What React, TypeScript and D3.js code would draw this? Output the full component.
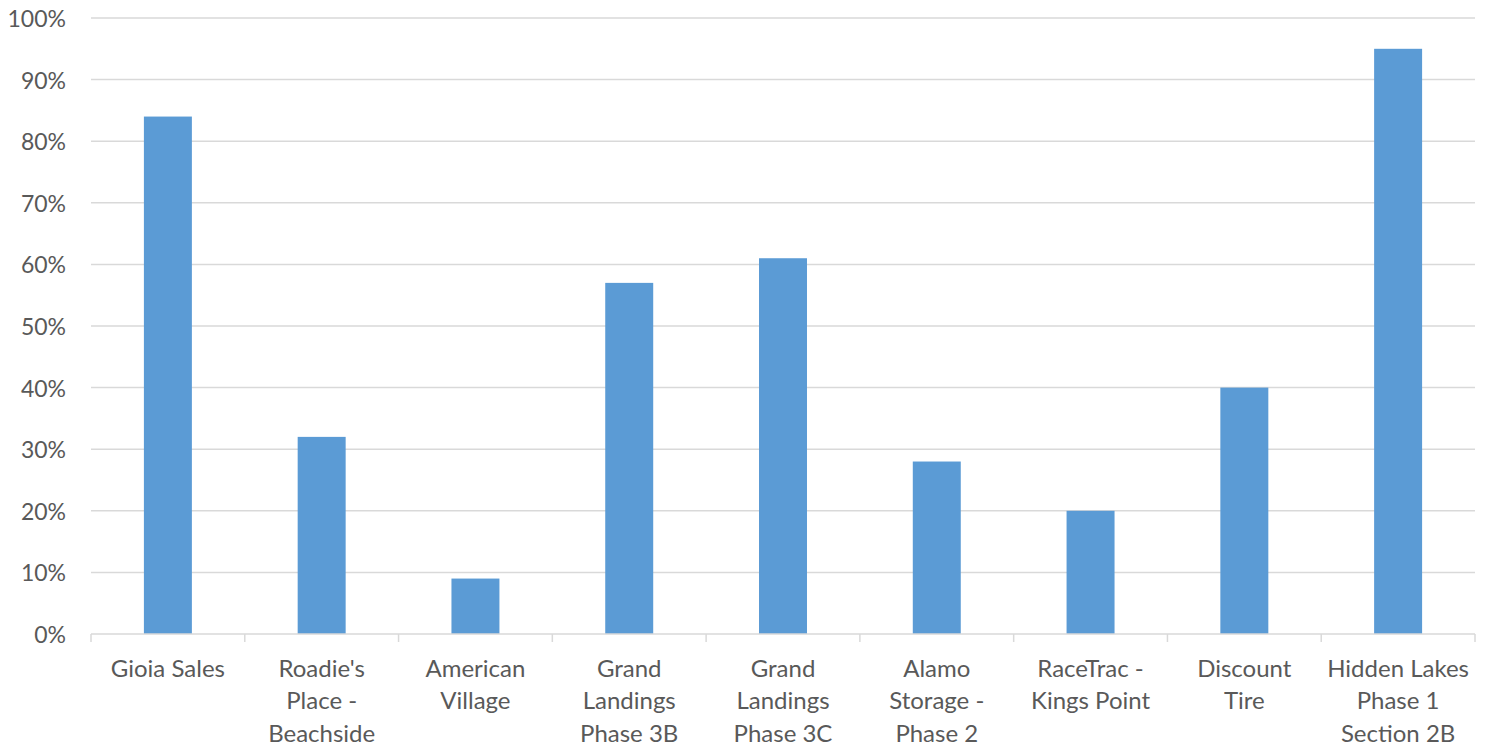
import React from "react";
import * as d3 from "d3";

const categories: string[][] = [
  ["Gioia Sales"],
  ["Roadie's", "Place -", "Beachside"],
  ["American", "Village"],
  ["Grand", "Landings", "Phase 3B"],
  ["Grand", "Landings", "Phase 3C"],
  ["Alamo", "Storage -", "Phase 2"],
  ["RaceTrac -", "Kings Point"],
  ["Discount", "Tire"],
  ["Hidden Lakes", "Phase 1", "Section 2B"],
];
const values: number[] = [0.84, 0.32, 0.09, 0.57, 0.61, 0.28, 0.2, 0.4, 0.95];
const yTicks: number[] = [0, 0.1, 0.2, 0.3, 0.4, 0.5, 0.6, 0.7, 0.8, 0.9, 1.0];

const W = 1486;
const H = 747;
const left = 91;
const right = 1475;
const top = 18;
const bottom = 634;
const FONT = "Lato, 'Open Sans', sans-serif";
const TEXT = "#595959";

export default function App() {
  const idx = categories.map((_, i) => String(i));
  const x = d3.scaleBand<string>().domain(idx).range([left, right]).padding(0);
  const y = d3.scaleLinear().domain([0, 1]).range([bottom, top]);
  const barW = x.bandwidth() * 0.312;
  const fmt = d3.format(".0%");
  return (
    <div style={{ position: "fixed", left: 0, top: 0 }}>
      <svg width={W} height={H} style={{ display: "block", background: "#fff" }}>
        {yTicks.map((t) => (
          <g key={t}>
            {t > 0 && (
              <line x1={left} x2={right} y1={y(t)} y2={y(t)} stroke="#D9D9D9" strokeWidth={1.5} />
            )}
            <text
              x={66}
              y={y(t)}
              textAnchor="end"
              dominantBaseline="central"
              fontFamily={FONT}
              fontSize={23}
              fill={TEXT}
            >
              {fmt(t)}
            </text>
          </g>
        ))}
        {values.map((v, i) => (
          <rect
            key={i}
            x={(x(String(i)) as number) + x.bandwidth() / 2 - barW / 2}
            y={y(v)}
            width={barW}
            height={y(0) - y(v)}
            fill="#5B9BD5"
          />
        ))}
        <line x1={left} x2={right} y1={bottom} y2={bottom} stroke="#D9D9D9" strokeWidth={1.5} />
        {d3.range(categories.length + 1).map((k) => {
          const xx = left + k * x.bandwidth();
          return <line key={k} x1={xx} x2={xx} y1={bottom} y2={bottom + 8} stroke="#D9D9D9" strokeWidth={1.5} />;
        })}
        {categories.map((lines, i) => (
          <text
            key={i}
            textAnchor="middle"
            fontFamily={FONT}
            fontSize={24}
            fill={TEXT}
          >
            {lines.map((l, j) => (
              <tspan
                key={j}
                x={(x(String(i)) as number) + x.bandwidth() / 2}
                y={667 + j * 32.5}
                dominantBaseline="central"
              >
                {l}
              </tspan>
            ))}
          </text>
        ))}
      </svg>
    </div>
  );
}
